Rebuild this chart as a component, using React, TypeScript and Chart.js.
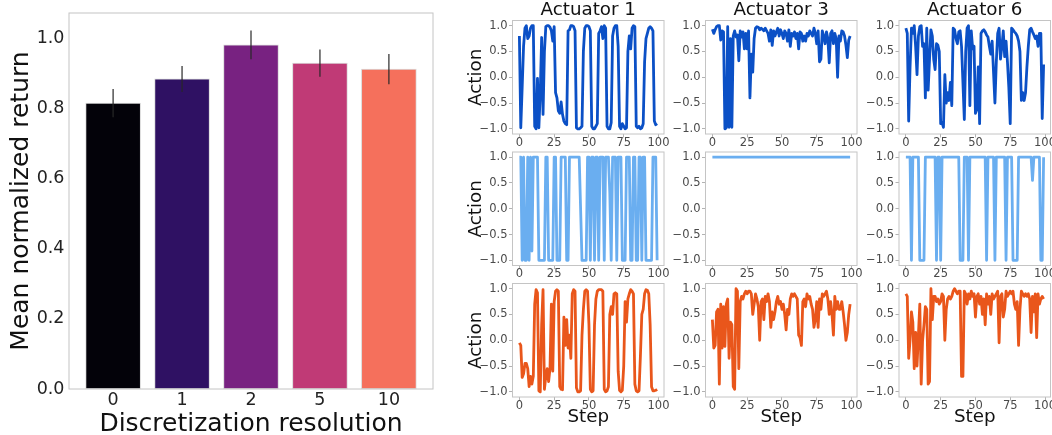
import React, { useEffect, useRef } from "react";
import { Chart, registerables } from "chart.js";

Chart.register(...registerables);

const FONT = "'DejaVu Sans', sans-serif";

// ---------------- data: left bar chart ----------------
const resolutionLabels = ["0", "1", "2", "5", "10"];
const meanReturn = [0.815, 0.884, 0.981, 0.929, 0.912];
const returnError = [0.04, 0.037, 0.041, 0.039, 0.043];
const barColors = ["#030209", "#2f1163", "#782281", "#c03a76", "#f5705c"];
const returnTicks = [0, 0.2, 0.4, 0.6, 0.8, 1.0];

// ---------------- data: action traces ----------------
const actuatorTitles = ["Actuator 1", "Actuator 3", "Actuator 6"];
const stepTicks = [0, 25, 50, 75, 100];
const actionTicks = [-1, -0.5, 0, 0.5, 1];

// row 1: continuous policy
const contAct1 = [
  0.8, -0.98, -0.2, 0.6, 0.95, 1.0, 0.75, 0.8, 0.95, 1.0,
  1.0, -0.95, -1.0, -0.02, -0.98, -0.3, 0.77, -0.72, 0.5, 0.98,
  1.0, 1.0, 0.97, 0.9, 0.7, 0.98, -0.3, -0.4, -0.65, -0.7,
  -0.48, -0.72, -0.85, -0.9, -0.92, 0.9, 0.92, 1.0, 1.0, 0.98,
  0.9, -0.98, -1.0, -1.0, -0.98, -0.95, 0.5, 0.95, 1.0, 1.0,
  0.98, 0.9, -0.95, -1.0, -1.0, -0.95, -0.9, 0.85, 0.9, 0.98,
  0.75, 1.0, 0.95, -0.95, -1.0, -1.0, -0.88, 0.8, 0.95, 1.0,
  1.0, 0.6, -0.95, -1.0, -0.9, -0.95, -1.0, -0.98, 0.5, 0.8,
  0.55, 0.95, 1.0, 0.98, -0.95, -0.98, -0.95, -1.0, -0.98, -0.9,
  0.3, 0.75, 0.85, 0.95, 0.98, 0.95, 0.9, -0.85, -0.92, -0.9,
];
const contAct3 = [
  0.93, 0.85, 0.92, 0.98, 1.0, 1.0, 0.72, 0.9, 0.88, -1.0,
  -0.98, 0.98, -0.97, 0.75, -0.97, 0.8, 0.9, 0.78, 0.82, 0.32,
  0.9, 0.78, 0.88, 0.55, 0.85, 0.55, 0.9, -0.4, 0.45, 0.1,
  0.75, 0.95, 0.98, 0.97, 0.92, 0.95, 0.93, 0.9, 0.95, 0.9,
  0.85, 0.7, 0.92, 0.62, 0.9, 0.8, 0.88, 0.95, 0.8, 0.92,
  0.85, 0.75, 0.9, 0.85, 0.7, 0.92, 0.6, 0.85, 0.8, 0.88,
  0.75, 0.85, 0.55, 0.88, 0.85, 0.7, 0.8, 0.7, 0.85, 0.8,
  0.9, 0.85, 0.8, 0.95, 0.85, 0.65, 0.9, 0.3, 0.35, 0.9,
  0.8, 0.65, 0.88, 0.75, 0.28, 0.85, 0.9, 0.65, 0.85, 0.75,
  0.0, 0.8, 0.7, 0.9, 0.88, 0.8, 0.62, 0.38, 0.72, 0.8,
];
const contAct6 = [
  0.95, 0.85, -0.85, 0.2, 0.95, 0.85, 1.0, 0.6, 0.05, 0.8,
  0.98, 1.0, 0.6, 0.65, -0.4, 0.95, -0.25, 0.35, 0.92, 0.8,
  0.35, 0.15, 0.65, 0.62, 0.5, -0.9, -0.88, -0.97, 0.05, -0.5,
  -0.3, -0.45, -0.1, -0.55, 0.95, 0.92, 0.75, 0.65, 0.88, 0.9,
  0.6, -0.1, -0.82, 0.5, 0.95, 1.0, -0.55, 0.9, 0.55, 0.6,
  -0.7, -0.62, 0.2, -0.9, 0.85, 0.9, 0.92, 0.88, 0.82, 0.78,
  0.6, 0.45, 0.7, 0.1, -0.5, 0.3, 0.85, 0.95, 0.35, 0.6,
  0.9, 0.4, 0.7, 0.3, -0.2, -0.9, 0.95, 0.92, 0.88, 0.85,
  0.8, 0.7, 0.5, -0.45, -0.3, -0.45, -0.3, 0.2, 0.6, 0.92,
  0.95, 0.88, 0.82, 0.75, 0.8, 0.6, 0.85, 0.85, -0.8, 0.25,
];

// row 2: bang-bang policy
const bangAct1 = [
  1, 1, -1, 1, -1, -1, 1, -1, 1, -0.82,
  1, 1, 1, 1, -1, -1, -1, -1, -1, 1,
  1, -1, -1, -1, -1, 1, 1, -1, -1, -1,
  1, 1, 1, 1, -1, -1, 1, 1, 1, 1,
  1, 1, 1, 1, 0, -1, -1, -1, -1, 1,
  1, -1, 1, 1, -1, 1, 1, -1, 1, 1,
  1, -1, 1, 1, 1, 0.3, -1, 1, 1, 1,
  -1, 1, 1, 1, -1, -1, -1, 1, 1, 1,
  -1, -1, 1, 1, -1, -1, 1, 1, -1, 1,
  1, -1, -1, -1, -1, -1, 1, 1, 1, -1,
];
const bangAct3 = [
  1, 1, 1, 1, 1, 1, 1, 1, 1, 1,
  1, 1, 1, 1, 1, 1, 1, 1, 1, 1,
  1, 1, 1, 1, 1, 1, 1, 1, 1, 1,
  1, 1, 1, 1, 1, 1, 1, 1, 1, 1,
  1, 1, 1, 1, 1, 1, 1, 1, 1, 1,
  1, 1, 1, 1, 1, 1, 1, 1, 1, 1,
  1, 1, 1, 1, 1, 1, 1, 1, 1, 1,
  1, 1, 1, 1, 1, 1, 1, 1, 1, 1,
  1, 1, 1, 1, 1, 1, 1, 1, 1, 1,
  1, 1, 1, 1, 1, 1, 1, 1, 1, 1,
];
const bangAct6 = [
  1, 1, 1, 1, -1, 1, 1, 1, 1, 1,
  -1, -1, -1, -1, 1, 1, 1, 1, 1, 1,
  1, 1, -1, 1, 1, -1, 1, 1, 1, 1,
  1, 1, 1, 1, 1, 1, 1, 1, 1, -1,
  -1, -1, 1, 1, 1, -1, 1, 1, 1, 1,
  1, 1, 1, 1, 1, 1, 1, 1, -1, 1,
  1, 1, 1, 1, -1, 1, 1, 1, 1, 1,
  1, 1, -1, 1, 1, 1, 1, -1, -1, -1,
  -1, 1, 1, 1, 1, 1, 1, 1, 1, 1,
  1, 0.55, 1, 1, 1, 1, 1, -1, -1, 1,
];

// row 3: discretized policy
const discAct1 = [
  -0.05, -0.1, -0.72, -0.65, -0.45, -0.45, -0.55, -0.9, -0.7, -0.85,
  -0.7, 0.7, 0.98, 0.92, -0.98, -1.0, 0.3, 0.98, -0.95, -0.7,
  -0.55, -0.8, -0.55, 0.7, -0.6, 0.75, 0.95, 0.98, 0.95, -0.9,
  -0.95, -0.96, 0.45, -0.1, 0.4, -0.15, 0.1, -0.35, 0.9, 0.98,
  0.95, -0.92, -1.0, -1.0, -0.98, 0.1, 0.6, 0.95, 0.98, 0.95,
  0.3, -0.95, -1.0, -0.98, 0.3, 0.8, 0.95, 0.98, 0.98, 0.98,
  0.95, -0.95, -1.0, -0.98, -0.9, 0.5, 0.65, 0.5, 0.9, 0.92,
  0.9, -0.6, -0.97, -1.0, -0.97, -0.5, 0.75, 0.35, 0.8, 0.9,
  0.98, 0.95, 0.9, -0.85, -0.98, -1.0, -0.98, -0.3, 0.5, 0.6,
  0.9, 0.98, 0.97, 0.9, 0.3, -0.9, -0.98, -0.98, -0.97, -0.95,
];
const discAct3 = [
  0.4, -0.15, -0.1, 0.55, 0.6, -0.85, 0.7, -0.15, 0.65, -0.12,
  0.7, 0.8, -0.35, 0.35, 0.3, -0.9, -0.95, 1.0, 0.95, -0.55,
  0.75, 0.85, 0.8, 0.9, 0.95, 0.9, 0.95, 0.95, 0.9, 0.5,
  0.7, 0.9, 0.8, 0.65, 0.0, 0.75, 0.8, 0.4, 0.85, 0.75,
  0.9, 0.75, 0.25, 0.55, 0.4, 0.55, 0.75, 0.85, 0.7, 0.75,
  0.6, 0.7, 0.5, 0.2, 0.6, 0.5, 0.8, 0.9, 0.85, 0.9,
  0.85, 0.8, 0.1, 0.05, -0.1, 0.75, 0.8, 0.65, 0.9, 0.8,
  0.85, 0.7, 0.6, 0.25, 0.4, 0.75, 0.25, 0.8, 0.6, 0.9,
  0.85, 0.9, 0.95, 0.8, 0.5, 0.75, 0.5, 0.1, 0.85, 0.6,
  0.75, 0.6, 0.6, 0.75, 0.55, 0.3, 0.0, 0.15, 0.5, 0.7,
];
const discAct6 = [
  0.9, 0.85, -0.35, 0.0, 0.55, 0.35, -0.55, 0.15, -0.5, 0.1,
  0.7, -0.85, 0.0, 0.3, 0.65, 0.6, -0.85, -0.8, 1.0, 0.4,
  0.85, 0.85, 0.75, 0.8, 0.7, 0.75, 0.9, 0.85, 0.0, 0.6,
  0.8, 0.85, 0.8, 0.85, 0.95, 1.0, 0.95, 0.9, 0.95, 0.95,
  -0.7, -0.7, 0.95, 0.9, 0.7, 0.9, 0.8, 0.95, 0.85, 0.9,
  0.45, 0.85, 0.9, 0.7, 0.85, 0.5, 0.8, 0.3, 0.9, 0.7,
  0.85, 0.5, 0.9, 0.8, 0.85, 0.9, 0.95, -0.05, 0.85, 0.9,
  0.45, 0.6, 0.95, 0.85, 0.9, 0.95, 0.9, 0.95, 0.7, 0.6,
  0.75, -0.1, 0.6, 0.95, 0.9, 0.85, 0.9, 0.85, 0.9, 0.8,
  0.15, 0.85, 0.55, 0.9, 0.05, 0.9, 0.7, 0.8, 0.85, 0.8,
];

const rowSeries = [
  [contAct1, contAct3, contAct6],
  [bangAct1, bangAct3, bangAct6],
  [discAct1, discAct3, discAct6],
];
const rowColors = ["#0b50c6", "#6aaef0", "#e9561b"];

// ---------------- layout (pixels) ----------------
const COL_LEFT = [512.5, 705.5, 899];
const ROW_TOP = [20.5, 152, 283.5];
const PLOT_W = 151.5;
const PLOT_H = 113.5;

function panelGeom(r: number, c: number) {
  const pl = COL_LEFT[c];
  const pt = ROW_TOP[r];
  const left = c === 0 ? 456 : Math.floor(pl) - 44;
  const right = Math.ceil(pl + PLOT_W) + 12;
  const top = r === 0 ? 0 : Math.floor(pt) - 8;
  const bottom = r === 2 ? 426 : Math.ceil(pt + PLOT_H) + 16;
  return {
    left,
    top,
    w: right - left,
    h: bottom - top,
    yW: pl - left,
    padRight: right - (pl + PLOT_W),
    padTop: r === 0 ? 0 : pt - top,
    xH: bottom - (pt + PLOT_H),
  };
}

const PANELS: { r: number; c: number; g: ReturnType<typeof panelGeom> }[] = [];
for (let r = 0; r < 3; r++) for (let c = 0; c < 3; c++) PANELS.push({ r, c, g: panelGeom(r, c) });

const fixSize = (size: number) => (scale: any) => {
  if (scale.isHorizontal()) scale.height = size;
  else scale.width = size;
  scale.paddingLeft = 0;
  scale.paddingRight = 0;
  scale.paddingTop = 0;
  scale.paddingBottom = 0;
};

const makeFrame = (color: string) => ({
  id: "frame",
  afterDraw(chart: any) {
    const { ctx, chartArea: a } = chart;
    ctx.save();
    ctx.strokeStyle = color;
    ctx.lineWidth = 1;
    ctx.strokeRect(a.left, a.top, a.right - a.left, a.bottom - a.top);
    ctx.restore();
  },
});

const errorBars = {
  id: "errorBars",
  afterDatasetsDraw(chart: any) {
    const { ctx, scales } = chart;
    ctx.save();
    ctx.strokeStyle = "rgba(40,40,40,0.8)";
    ctx.lineWidth = 1.5;
    meanReturn.forEach((m, i) => {
      const x = scales.x.getPixelForValue(i);
      ctx.beginPath();
      ctx.moveTo(x, scales.y.getPixelForValue(m - returnError[i]));
      ctx.lineTo(x, scales.y.getPixelForValue(m + returnError[i]));
      ctx.stroke();
    });
    ctx.restore();
  },
};

const fmtAction = (v: number) => (v < 0 ? "\u2212" : "") + Math.abs(v).toFixed(1);

export default function App() {
  const barRef = useRef<HTMLCanvasElement | null>(null);
  const panelRefs = useRef<(HTMLCanvasElement | null)[]>([]);

  useEffect(() => {
    Chart.defaults.font.family = FONT;
    const charts: Chart[] = [];

    // ---- bar chart ----
    if (barRef.current) {
      charts.push(
        new Chart(barRef.current, {
          type: "bar",
          data: {
            datasets: [
              {
                data: meanReturn.map((v, i) => ({ x: i, y: v })),
                backgroundColor: barColors,
                borderColor: "rgba(215,215,215,0.9)",
                borderWidth: 1,
                borderSkipped: false,
                barThickness: 55,
              } as any,
            ],
          },
          options: {
            animation: false,
            responsive: false,
            devicePixelRatio: 1,
            layout: { padding: { left: 0, top: 13, right: 7, bottom: 0 } },
            plugins: { legend: { display: false }, tooltip: { enabled: false } },
            scales: {
              x: {
                type: "linear",
                min: -0.64,
                max: 4.64,
                offset: false,
                afterBuildTicks: (s: any) => {
                  s.ticks = resolutionLabels.map((_, i) => ({ value: i }));
                },
                afterFit: fixSize(49),
                grid: { display: false, drawTicks: false },
                border: { display: false },
                ticks: {
                  callback: (_v: any, i: number) => resolutionLabels[i],
                  font: { size: 17.5, lineHeight: 1 },
                  color: "#222",
                  padding: 2.5,
                  maxRotation: 0,
                  minRotation: 0,
                  autoSkip: false,
                },
                title: {
                  display: true,
                  text: "Discretization resolution",
                  font: { size: 25, lineHeight: 1 },
                  color: "#111",
                  padding: { top: 0, bottom: 1.5 },
                },
              },
              y: {
                type: "linear",
                min: 0,
                max: 1.072,
                afterBuildTicks: (s: any) => {
                  s.ticks = returnTicks.map((v) => ({ value: v }));
                },
                afterFit: fixSize(69),
                grid: { display: false, drawTicks: false },
                border: { display: false },
                ticks: {
                  callback: (v: any) => Number(v).toFixed(1),
                  font: { size: 17.5, lineHeight: 1 },
                  color: "#222",
                  padding: 4.5,
                },
                title: {
                  display: true,
                  text: "Mean normalized return",
                  font: { size: 25, lineHeight: 1 },
                  color: "#111",
                  padding: { top: 9, bottom: 0 },
                },
              },
            },
          } as any,
          plugins: [errorBars, makeFrame("#c4c4c4")],
        })
      );
    }

    // ---- action panels ----
    PANELS.forEach(({ r, c, g }, k) => {
      const el = panelRefs.current[k];
      if (!el) return;
      const values = rowSeries[r][c];
      charts.push(
        new Chart(el, {
          type: "line",
          data: {
            datasets: [
              {
                data: values.map((v, i) => ({ x: i, y: v })),
                borderColor: rowColors[r],
                borderWidth: 2.8,
                pointRadius: 0,
                tension: 0,
                fill: false,
                borderJoinStyle: "round",
              } as any,
            ],
          },
          options: {
            animation: false,
            responsive: false,
            devicePixelRatio: 1,
            layout: { padding: { left: 0, top: g.padTop, right: g.padRight, bottom: 0 } },
            plugins: {
              legend: { display: false },
              tooltip: { enabled: false },
              title: {
                display: r === 0,
                text: actuatorTitles[c],
                fullSize: false,
                color: "#111",
                font: { size: 18.3, lineHeight: 1, weight: "normal" },
                padding: { top: 1.25, bottom: ROW_TOP[0] - 1.25 - 18.3 },
              },
            },
            scales: {
              x: {
                type: "linear",
                min: -4.95,
                max: 103.95,
                afterBuildTicks: (s: any) => {
                  s.ticks = stepTicks.map((v) => ({ value: v }));
                },
                afterFit: fixSize(g.xH),
                grid: {
                  display: true,
                  drawOnChartArea: false,
                  drawTicks: true,
                  tickLength: 3.5,
                  color: "#b3b3b3",
                },
                border: { display: false },
                ticks: {
                  callback: (v: any) => String(v),
                  font: { size: 11.5, lineHeight: 1 },
                  color: "#4a4a4a",
                  padding: -0.5,
                  maxRotation: 0,
                  minRotation: 0,
                  autoSkip: false,
                },
                title: {
                  display: r === 2,
                  text: "Step",
                  font: { size: 18.3, lineHeight: 1 },
                  color: "#111",
                  padding: { top: 0, bottom: 0 },
                },
              },
              y: {
                type: "linear",
                min: -1.1,
                max: 1.1,
                afterBuildTicks: (s: any) => {
                  s.ticks = actionTicks.map((v) => ({ value: v }));
                },
                afterFit: fixSize(g.yW),
                grid: {
                  display: true,
                  drawOnChartArea: false,
                  drawTicks: true,
                  tickLength: 3.5,
                  color: "#b3b3b3",
                },
                border: { display: false },
                ticks: {
                  callback: (v: any) => fmtAction(Number(v)),
                  font: { size: 11.5, lineHeight: 1 },
                  color: "#4a4a4a",
                  padding: 1.5,
                  autoSkip: false,
                },
                title: {
                  display: c === 0,
                  text: "Action",
                  font: { size: 18.3, lineHeight: 1 },
                  color: "#111",
                  padding: { top: 476.5 - g.left - 9.15, bottom: 0 },
                },
              },
            },
          } as any,
          plugins: [makeFrame("#c4c4c4")],
        })
      );
    });

    return () => charts.forEach((ch) => ch.destroy());
  }, []);

  return (
    <div
      style={{
        position: "absolute",
        left: 0,
        top: 0,
        width: 1052,
        height: 435,
        overflow: "hidden",
        background: "#ffffff",
      }}
    >
      <canvas
        ref={barRef}
        width={440}
        height={438}
        style={{ position: "absolute", left: 0, top: 0, width: 440, height: 438 }}
      />
      {PANELS.map(({ g }, k) => (
        <canvas
          key={k}
          ref={(el) => {
            panelRefs.current[k] = el;
          }}
          width={g.w}
          height={g.h}
          style={{ position: "absolute", left: g.left, top: g.top, width: g.w, height: g.h }}
        />
      ))}
    </div>
  );
}
